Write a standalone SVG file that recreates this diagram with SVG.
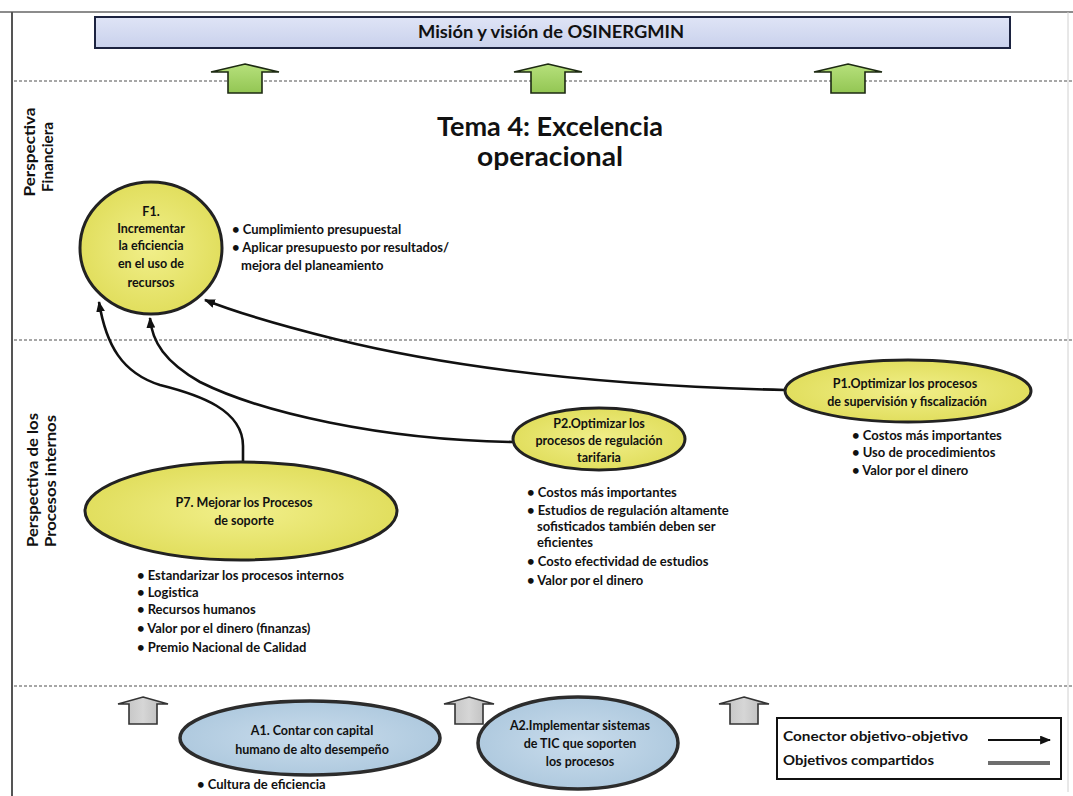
<svg xmlns="http://www.w3.org/2000/svg" width="1073" height="796" viewBox="0 0 1073 796">
  <defs>
    <style>
      .t { font-family: Lato, "Open Sans", "Liberation Sans", sans-serif; font-weight: bold; fill: #111; }
      .node { font-size: 12.5px; text-anchor: middle; }
      .bul { font-size: 13px; }
      .side { font-size: 15px; text-anchor: middle; }
      .sep { stroke: #8a8a8a; stroke-width: 1.6; stroke-dasharray: 3 2; fill: none; }
      .link { stroke: #111; stroke-width: 2.6; fill: none; marker-end: url(#tip); }
      .yel { fill: url(#gYel); stroke: #222; stroke-width: 3; }
      .blu { fill: url(#gBlu); stroke: #2c2c2c; stroke-width: 3.5; }
      .up { fill: url(#gGreen); stroke: #1d2a12; stroke-width: 1.6; stroke-linejoin: miter; }
      .upg { fill: url(#gGray); stroke: #333; stroke-width: 1.6; stroke-linejoin: miter; }
    </style>
    <radialGradient id="gYel" cx="50%" cy="50%" r="60%">
      <stop offset="0" stop-color="#f1ef8a"/>
      <stop offset="1" stop-color="#dedb55"/>
    </radialGradient>
    <radialGradient id="gBlu" cx="50%" cy="50%" r="60%">
      <stop offset="0" stop-color="#c9dcec"/>
      <stop offset="1" stop-color="#aac6dc"/>
    </radialGradient>
    <linearGradient id="gGreen" x1="0" y1="0" x2="0" y2="1">
      <stop offset="0" stop-color="#b6e07c"/>
      <stop offset="1" stop-color="#93c653"/>
    </linearGradient>
    <linearGradient id="gGray" x1="0" y1="0" x2="1" y2="0">
      <stop offset="0" stop-color="#bdbdbd"/>
      <stop offset="0.5" stop-color="#d6d6d6"/>
      <stop offset="1" stop-color="#b5b5b5"/>
    </linearGradient>
    <linearGradient id="gBanner" x1="0" y1="0" x2="0" y2="1">
      <stop offset="0" stop-color="#dfe4f6"/>
      <stop offset="1" stop-color="#c9d1ec"/>
    </linearGradient>
    <marker id="tip" viewBox="0 0 10 8" refX="9" refY="4" markerWidth="11" markerHeight="9" markerUnits="userSpaceOnUse" orient="auto">
      <path d="M0,0 L10,4 L0,8 Z" fill="#111"/>
    </marker>
  </defs>

  <rect width="1073" height="796" fill="#fff"/>

  <!-- outer frame -->
  <line x1="0" y1="12" x2="1073" y2="12" stroke="#8c8c8c" stroke-width="2"/>
  <line x1="12" y1="12" x2="12" y2="796" stroke="#555" stroke-width="2"/>
  <line x1="1068" y1="12" x2="1068" y2="792" stroke="#d0d0d0" stroke-width="1"/>

  <!-- perspective separators -->
  <line class="sep" x1="14" y1="81" x2="1073" y2="81"/>
  <line class="sep" x1="14" y1="340" x2="1073" y2="340"/>
  <line class="sep" x1="14" y1="686" x2="1073" y2="686"/>

  <!-- mission banner -->
  <g id="mision">
    <rect x="95" y="17" width="915" height="31" fill="url(#gBanner)" stroke="#1c2340" stroke-width="2"/>
    <text class="t" x="551" y="38" font-size="16.5" text-anchor="middle" textLength="266" lengthAdjust="spacingAndGlyphs">Misión y visión de OSINERGMIN</text>
  </g>

  <!-- shared-objective arrows towards the mission -->
  <g id="up-green">
    <path class="up" d="M245,64 L279,72 L262,72 L262,93 L228,93 L228,72 L211,72 Z"/>
    <path class="up" d="M548,64 L582,72 L565,72 L565,93 L531,93 L531,72 L514,72 Z"/>
    <path class="up" d="M848,64 L882,72 L865,72 L865,93 L831,93 L831,72 L814,72 Z"/>
  </g>

  <!-- theme title -->
  <g id="tema">
    <text class="t" x="550" y="136" font-size="26" text-anchor="middle" textLength="226" lengthAdjust="spacingAndGlyphs">Tema 4: Excelencia</text>
    <text class="t" x="550" y="166" font-size="26" text-anchor="middle" textLength="146" lengthAdjust="spacingAndGlyphs">operacional</text>
  </g>

  <!-- perspective labels -->
  <g id="lbl-financiera">
    <text class="t side" transform="translate(35,152) rotate(-90)" textLength="89" lengthAdjust="spacingAndGlyphs">Perspectiva</text>
    <text class="t side" transform="translate(53,157) rotate(-90)" textLength="70" lengthAdjust="spacingAndGlyphs">Financiera</text>
  </g>
  <g id="lbl-procesos">
    <text class="t side" transform="translate(38,480) rotate(-90)" textLength="134" lengthAdjust="spacingAndGlyphs">Perspectiva de los</text>
    <text class="t side" transform="translate(56,481) rotate(-90)" textLength="132" lengthAdjust="spacingAndGlyphs">Procesos internos</text>
  </g>

  <!-- connectors -->
  <g id="connectors">
    <path class="link" d="M785,390 C620,386 460,370 335,339 C275,324 235,312 205,300"/>
    <path class="link" d="M514,442 C380,440 260,412 200,382 C165,362 152,342 150,318"/>
    <path class="link" d="M243,462 L243,446 C243,410 200,395 160,385 C122,373 106,345 99,302"/>
  </g>

  <!-- F1 -->
  <g id="F1">
    <ellipse class="yel" cx="151" cy="248" rx="71" ry="66"/>
    <text class="t node" x="151" y="216">F1.</text>
    <text class="t node" x="151" y="233">Incrementar</text>
    <text class="t node" x="151" y="250">la eficiencia</text>
    <text class="t node" x="151" y="268">en el uso de</text>
    <text class="t node" x="151" y="287">recursos</text>
    <text class="t bul" x="232" y="234">• Cumplimiento presupuestal</text>
    <text class="t bul" x="232" y="252">• Aplicar presupuesto por resultados/</text>
    <text class="t bul" x="241" y="270">mejora del planeamiento</text>
  </g>

  <!-- P1 -->
  <g id="P1">
    <ellipse class="yel" cx="908" cy="391" rx="123" ry="31"/>
    <text class="t node" x="905" y="388">P1.Optimizar los procesos</text>
    <text class="t node" x="907" y="406">de supervisión y fiscalización</text>
    <text class="t bul" x="852" y="440">• Costos más importantes</text>
    <text class="t bul" x="852" y="457">• Uso de procedimientos</text>
    <text class="t bul" x="852" y="475">• Valor por el dinero</text>
  </g>

  <!-- P2 -->
  <g id="P2">
    <ellipse class="yel" cx="599" cy="439" rx="86" ry="31"/>
    <text class="t node" x="599" y="428" font-size="11.5">P2.Optimizar los</text>
    <text class="t node" x="599" y="445" font-size="11.5">procesos de regulación</text>
    <text class="t node" x="599" y="462" font-size="11.5">tarifaria</text>
    <text class="t bul" x="527" y="497">• Costos más importantes</text>
    <text class="t bul" x="527" y="515">• Estudios de regulación  altamente</text>
    <text class="t bul" x="537" y="531">sofisticados también deben ser</text>
    <text class="t bul" x="537" y="547">eficientes</text>
    <text class="t bul" x="527" y="566">• Costo efectividad de estudios</text>
    <text class="t bul" x="527" y="585">• Valor por el dinero</text>
  </g>

  <!-- P7 -->
  <g id="P7">
    <ellipse class="yel" cx="241" cy="511" rx="156" ry="49"/>
    <text class="t node" x="244" y="507" font-size="14.5">P7. Mejorar los Procesos</text>
    <text class="t node" x="244" y="525" font-size="14.5">de soporte</text>
    <text class="t bul" x="137" y="580">• Estandarizar los procesos internos</text>
    <text class="t bul" x="137" y="597">• Logistica</text>
    <text class="t bul" x="137" y="614">• Recursos humanos</text>
    <text class="t bul" x="137" y="633">• Valor por el dinero (finanzas)</text>
    <text class="t bul" x="137" y="652">• Premio Nacional de Calidad</text>
  </g>

  <!-- shared-objective arrows from learning perspective -->
  <g id="up-gray">
    <path class="upg" d="M143,697 L168,704 L157,704 L157,724 L129,724 L129,704 L118,704 Z"/>
    <path class="upg" d="M469,697 L494,704 L483,704 L483,724 L455,724 L455,704 L444,704 Z"/>
    <path class="upg" d="M744,697 L769,704 L758,704 L758,724 L730,724 L730,704 L719,704 Z"/>
  </g>

  <!-- A1 -->
  <g id="A1">
    <ellipse class="blu" cx="310" cy="738" rx="130" ry="37"/>
    <text class="t node" x="312" y="735" font-size="14">A1. Contar con capital</text>
    <text class="t node" x="312" y="754" font-size="14">humano de alto desempeño</text>
    <text class="t bul" x="197" y="789" font-size="12.5">• Cultura de eficiencia</text>
  </g>

  <!-- A2 -->
  <g id="A2">
    <ellipse class="blu" cx="578" cy="743" rx="100" ry="46"/>
    <text class="t node" x="580" y="730" font-size="13">A2.Implementar sistemas</text>
    <text class="t node" x="580" y="748" font-size="13">de TIC que soporten</text>
    <text class="t node" x="580" y="766" font-size="13">los procesos</text>
  </g>

  <!-- legend -->
  <g id="legend">
    <rect x="777" y="718" width="284" height="61" fill="#fff" stroke="#111" stroke-width="2"/>
    <text class="t" x="783" y="741" font-size="14" textLength="185" lengthAdjust="spacingAndGlyphs">Conector objetivo-objetivo</text>
    <text class="t" x="783" y="765" font-size="14" textLength="151" lengthAdjust="spacingAndGlyphs">Objetivos compartidos</text>
    <line x1="988" y1="740" x2="1050" y2="740" stroke="#111" stroke-width="2" marker-end="url(#tip)"/>
    <line x1="988" y1="763" x2="1050" y2="763" stroke="#6e6e6e" stroke-width="4"/>
  </g>
</svg>
